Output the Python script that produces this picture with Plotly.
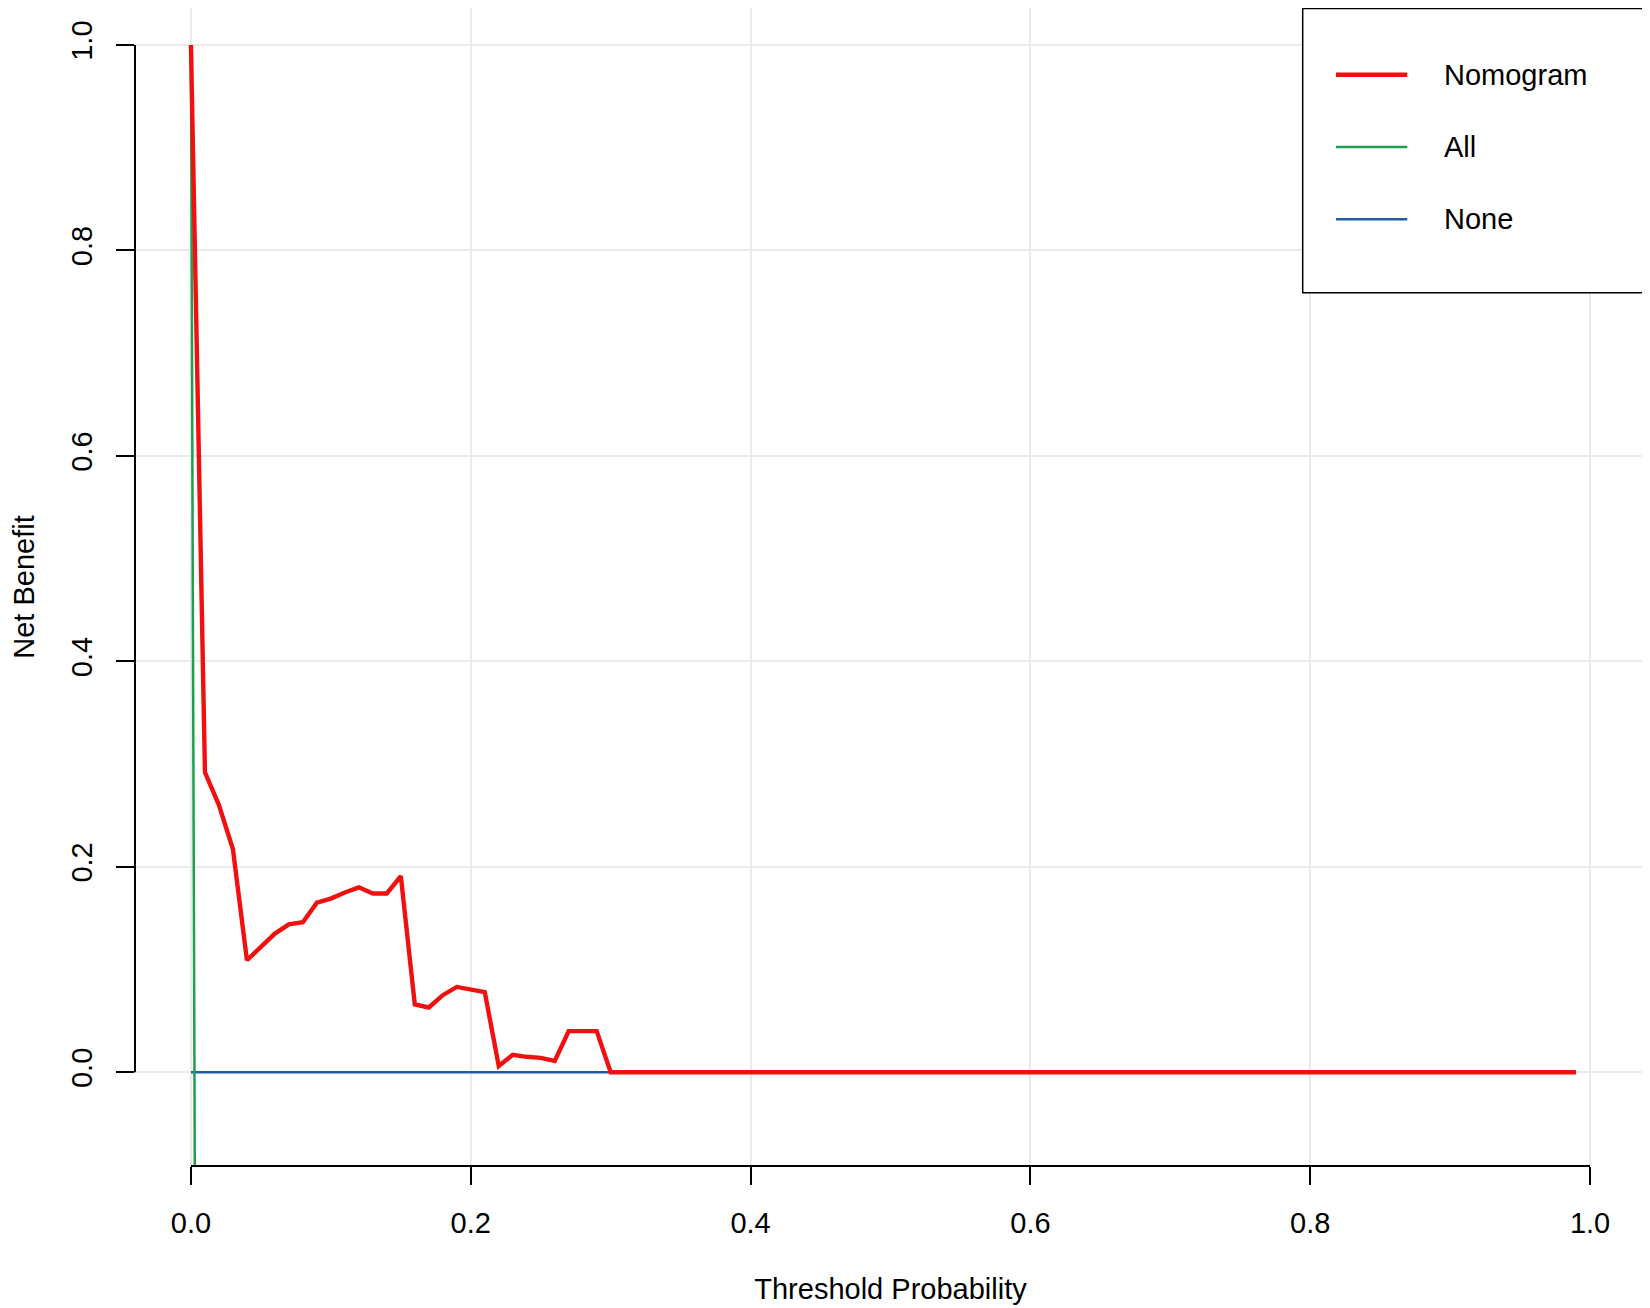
import plotly.graph_objects as go

# ---------------- data ----------------
threshold = [0.00, 0.01, 0.02, 0.03, 0.04, 0.05, 0.06, 0.07, 0.08, 0.09,
             0.10, 0.11, 0.12, 0.13, 0.14, 0.15, 0.16, 0.17, 0.18, 0.19,
             0.20, 0.21, 0.22, 0.23, 0.24, 0.25, 0.26, 0.27, 0.28, 0.29,
             0.30, 0.99]
nomogram = [1.000, 0.292, 0.260, 0.217, 0.109, 0.122, 0.135, 0.144, 0.146, 0.165,
            0.169, 0.175, 0.180, 0.174, 0.174, 0.191, 0.066, 0.063, 0.075, 0.083,
            0.081, 0.078, 0.006, 0.017, 0.015, 0.014, 0.011, 0.040, 0.040, 0.040,
            0.000, 0.000]
all_x = [0.00, 0.01]
all_y = [1.0, -3.0]
none_x = [0.00, 0.99]
none_y = [0.0, 0.0]

series_names = ["Nomogram", "All", "None"]
series_colors = ["#F01010", "#1E9E4E", "#1F5BA6"]
series_widths = [4.4, 2.5, 2.5]

x_ticks = [0.0, 0.2, 0.4, 0.6, 0.8, 1.0]
x_tick_labels = ["0.0", "0.2", "0.4", "0.6", "0.8", "1.0"]
y_ticks = [0.0, 0.2, 0.4, 0.6, 0.8, 1.0]
y_tick_labels = ["0.0", "0.2", "0.4", "0.6", "0.8", "1.0"]

x_title = "Threshold Probability"
y_title = "Net Benefit"

FONT = "Liberation Sans, Arial, Helvetica, sans-serif"
FS = 29

fig = go.Figure()
fig.add_trace(go.Scatter(x=none_x, y=none_y, mode="lines", name=series_names[2],
                         line=dict(color=series_colors[2], width=series_widths[2]),
                         showlegend=False))
fig.add_trace(go.Scatter(x=all_x, y=all_y, mode="lines", name=series_names[1],
                         line=dict(color=series_colors[1], width=series_widths[1]),
                         showlegend=False))
fig.add_trace(go.Scatter(x=threshold, y=nomogram, mode="lines", name=series_names[0],
                         line=dict(color=series_colors[0], width=series_widths[0]),
                         showlegend=False))

# R-style axis lines spanning first to last tick
fig.add_shape(type="line", xref="x", yref="paper", x0=x_ticks[0], x1=x_ticks[-1],
              y0=0, y1=0, line=dict(color="black", width=2))
fig.add_shape(type="line", xref="paper", yref="y", x0=0, x1=0,
              y0=y_ticks[0], y1=y_ticks[-1], line=dict(color="black", width=2))

# custom legend box (R-like)
fig.add_shape(type="rect", xref="paper", yref="paper", x0=0.7728, x1=1.0005, y0=0.7541, y1=0.9995,
              line=dict(color="black", width=1.5), fillcolor="white", layer="above")
row_y = [0.9424, 0.8800, 0.8175]
for name, col, w, ry in zip(series_names, series_colors, series_widths, row_y):
    fig.add_shape(type="line", xref="paper", yref="paper", x0=0.7948, x1=0.8420,
                  y0=ry, y1=ry, line=dict(color=col, width=w), layer="above")
    fig.add_annotation(xref="paper", yref="paper", x=0.8648, y=ry, text=name,
                       showarrow=False, xanchor="left", yanchor="middle",
                       font=dict(family=FONT, size=FS, color="black"))

fig.update_layout(
    width=1642, height=1300,
    margin=dict(l=127, r=4, t=0, b=142),
    paper_bgcolor="white", plot_bgcolor="white",
    font=dict(family=FONT, size=FS, color="black"),
    showlegend=False,
)
fig.update_xaxes(
    range=[-0.04, 1.04], tickvals=x_ticks, ticktext=x_tick_labels,
    ticks="outside", ticklen=18, tickwidth=1.5, tickcolor="black",
    showline=False, zeroline=False, showgrid=True, gridcolor="#EBEBEB", gridwidth=1.5,
    tickfont=dict(family=FONT, size=FS), ticklabelstandoff=13, automargin=False,
    title=dict(text=x_title, font=dict(family=FONT, size=FS), standoff=40),
)
fig.update_yaxes(
    range=[-0.0913, 1.036], tickvals=y_ticks, ticktext=y_tick_labels,
    ticks="outside", ticklen=18, tickwidth=1.5, tickcolor="black", tickangle=-90,
    showline=False, zeroline=False, showgrid=True, gridcolor="#EBEBEB", gridwidth=1.5,
    tickfont=dict(family=FONT, size=FS), ticklabelstandoff=12, automargin=False,
    title=dict(text=y_title, font=dict(family=FONT, size=FS), standoff=58),
)

fig.write_html("out.html")
